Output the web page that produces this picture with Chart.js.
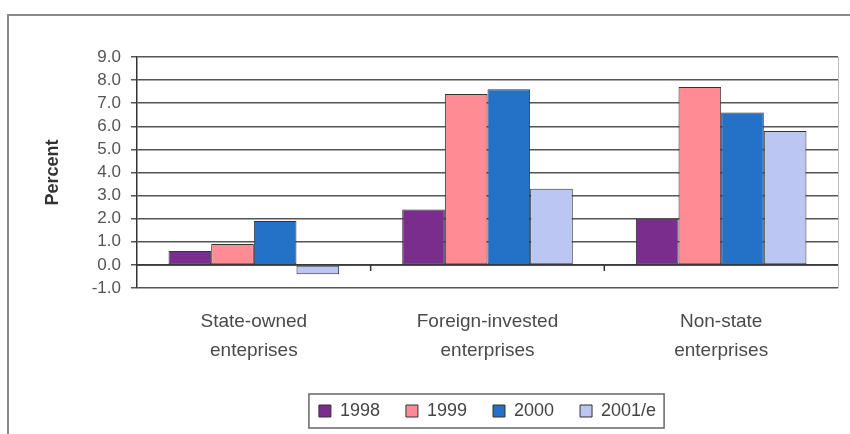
<!DOCTYPE html>
<html>
<head>
<meta charset="utf-8">
<script src="https://cdn.jsdelivr.net/npm/chart.js@4"></script>
<style>
  body { margin: 0; background: #fff; overflow: hidden; }
  #frame { position: absolute; left: 7px; top: 14px; width: 843px; height: 420px;
           border-top: 2px solid #8a8a8a; border-left: 2px solid #8a8a8a; }
  canvas { display: block; }
</style>
</head>
<body>
<div id="frame"><canvas id="chart" width="841" height="418"></canvas></div>
<script>
const categories = [["State-owned", "enteprises"], ["Foreign-invested", "enterprises"], ["Non-state", "enterprises"]];
const years = ["1998", "1999", "2000", "2001/e"];
const v1998 = [0.6, 2.4, 2.0];
const v1999 = [0.9, 7.4, 7.7];
const v2000 = [1.9, 7.6, 6.6];
const v2001 = [-0.4, 3.3, 5.8];
const colors = ['#7b2d8e', '#ff8c94', '#2472c8', '#bcc6f2'];

const font = "'Liberation Sans', Arial, sans-serif";

// the scanned text runs a bit wide, so space the letters out
const spacing = {
    id: 'spacing',
    beforeInit(chart) { chart.ctx.letterSpacing = '1.2px'; }
};

// zero line with excel style ticks, plot edge, box round the legend
const extras = {
    id: 'extras',
    afterLayout(chart) {
        // centre the legend under the plot, not the whole canvas
        const a = chart.chartArea, lg = chart.legend;
        const shift = (a.left + a.right) / 2 - (lg.left + lg.right) / 2;
        lg.left += shift;
        lg.right += shift;
    },
    afterDraw(chart) {
        const ctx = chart.ctx;
        const x = chart.scales.x, y = chart.scales.y;
        const a = chart.chartArea;
        const y0 = y.getPixelForValue(0);
        ctx.save();
        ctx.strokeStyle = '#bbb';
        ctx.lineWidth = 1;
        ctx.beginPath();
        ctx.moveTo(a.right + 0.5, a.top);
        ctx.lineTo(a.right + 0.5, a.bottom);
        ctx.stroke();
        ctx.strokeStyle = '#333';
        ctx.lineWidth = 1.5;
        ctx.beginPath();
        ctx.moveTo(a.left, y0);
        ctx.lineTo(a.right, y0);
        for (let i = 1; i < categories.length; i++) {
            const bx = (x.getPixelForValue(i - 1) + x.getPixelForValue(i)) / 2;
            ctx.moveTo(bx, y0);
            ctx.lineTo(bx, y0 + 6);
        }
        ctx.stroke();
        const boxes = chart.legend.legendHitBoxes;
        if (boxes && boxes.length) {
            const l = Math.min(...boxes.map(b => b.left)) - 10;
            const r = Math.max(...boxes.map(b => b.left + b.width)) + 8;
            const t = boxes[0].top - 8;
            const h = boxes[0].height + 16;
            ctx.strokeStyle = '#666';
            ctx.lineWidth = 1.5;
            ctx.strokeRect(l, t, r - l, h);
        }
        ctx.restore();
    }
};

const chart = new Chart(document.querySelector('#chart'), {
    type: 'bar',
    data: {
        labels: categories,
        datasets: [v1998, v1999, v2000, v2001].map((d, i) => ({
            label: years[i],
            data: d,
            backgroundColor: colors[i],
            borderColor: '#333',
            borderWidth: 1,
            borderSkipped: false,
            barPercentage: 1,
            categoryPercentage: 0.73
        }))
    },
    options: {
        responsive: false,
        animation: false,
        layout: { padding: { top: 41, right: 12, bottom: 4, left: 0 } },
        plugins: {
            tooltip: { enabled: false },
            legend: {
                position: 'bottom',
                labels: {
                    font: { family: font, size: 18 },
                    color: '#444',
                    boxWidth: 12,
                    boxHeight: 12,
                    padding: 26,
                    useBorderRadius: false
                }
            }
        },
        scales: {
            x: {
                grid: { display: false },
                border: { display: false },
                ticks: {
                    font: { family: font, size: 19, lineHeight: 1.53 },
                    color: '#4a4a4a',
                    padding: 11,
                    maxRotation: 0
                },
                afterFit: s => { s.height = 88; }
            },
            y: {
                min: -1,
                max: 9,
                ticks: {
                    stepSize: 1,
                    autoSkip: false,
                    callback: v => v.toFixed(1),
                    font: { family: font, size: 17 },
                    color: '#555',
                    padding: 10
                },
                grid: { color: '#555', lineWidth: 1.5, tickLength: 6 },
                border: { color: '#333', width: 1.5 },
                title: {
                    display: true,
                    text: 'Percent',
                    font: { family: font, size: 18, weight: 'bold' },
                    color: '#333',
                    padding: { top: 33, bottom: 0 }
                },
                afterFit: s => { s.width = 128; }
            }
        }
    },
    plugins: [spacing, extras]
});
</script>
</body>
</html>
